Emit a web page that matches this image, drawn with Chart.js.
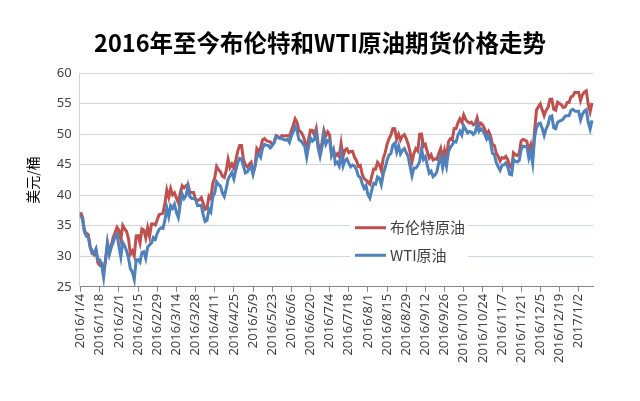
<!DOCTYPE html>
<html>
<head>
<meta charset="utf-8">
<title>2016年至今布伦特和WTI原油期货价格走势</title>
<script src="https://cdn.jsdelivr.net/npm/chart.js@4.4.1/dist/chart.umd.min.js"></script>
<style>
  html, body { margin: 0; padding: 0; background: #fff; }
  #wrap { width: 640px; height: 401px; }
</style>
</head>
<body>
<div id="wrap"><canvas id="oilChart" width="640" height="401"></canvas></div>
<script>
const chartTitle = "2016年至今布伦特和WTI原油期货价格走势";
const yAxisTitle = "美元/桶";
const seriesNames = ["布伦特原油", "WTI原油"];
const startDate = "2016-01-04";

// ticks shown under the x axis (every 10 trading days)
const tickLabels = [
  "2016/1/4", "2016/1/18", "2016/2/1", "2016/2/15", "2016/2/29", "2016/3/14",
  "2016/3/28", "2016/4/11", "2016/4/25", "2016/5/9", "2016/5/23", "2016/6/6",
  "2016/6/20", "2016/7/4", "2016/7/18", "2016/8/1", "2016/8/15", "2016/8/29",
  "2016/9/12", "2016/9/26", "2016/10/10", "2016/10/24", "2016/11/7",
  "2016/11/21", "2016/12/5", "2016/12/19", "2017/1/2",
];

// 布伦特 daily close, USD/bbl
const brent = [
  37.22, 36.42, 34.23, 33.75, 33.55, 31.55, 30.86, 30.31, 31.03, 28.94,
  28.55, 28.76, 27.88, 29.25, 32.18, 30.50, 31.80, 33.10, 33.89, 34.74,
  34.24, 32.72, 35.04, 34.46, 34.06, 32.88, 30.32, 30.84, 30.06, 33.36,
  33.39, 32.18, 34.50, 34.28, 33.01, 34.69, 33.27, 35.29, 35.29, 35.10,
  35.97, 36.81, 36.93, 37.07, 38.72, 40.84, 39.65, 41.07, 40.05, 40.39,
  39.53, 38.74, 40.33, 41.54, 41.20, 41.54, 41.79, 40.47, 40.44, 40.44,
  39.27, 39.14, 39.26, 39.60, 38.67, 37.69, 37.87, 39.84, 39.43, 41.94,
  42.83, 44.69, 44.18, 43.84, 43.10, 42.91, 44.03, 45.90, 44.53, 45.11,
  44.48, 45.74, 47.18, 48.14, 48.13, 45.83, 44.97, 44.62, 45.01, 45.37,
  43.63, 44.66, 47.59, 47.08, 47.83, 49.06, 49.28, 48.93, 48.81, 48.72,
  48.35, 48.61, 49.74, 49.59, 49.32, 49.76, 49.69, 49.72, 49.72, 49.64,
  50.55, 51.44, 52.51, 51.95, 50.54, 50.35, 49.83, 48.97, 47.19, 49.17,
  50.65, 50.62, 49.88, 50.91, 48.41, 47.16, 48.58, 50.61, 49.68, 50.35,
  49.85, 46.60, 47.43, 46.40, 46.76, 46.25, 48.47, 46.26, 47.37, 47.61,
  46.96, 47.14, 47.17, 46.20, 45.69, 44.72, 44.87, 43.47, 42.70, 42.46,
  42.14, 41.80, 43.10, 44.29, 44.27, 45.39, 44.98, 44.05, 46.04, 46.97,
  48.35, 49.23, 49.85, 50.89, 50.88, 49.16, 49.96, 49.05, 49.67, 49.92,
  49.26, 48.37, 47.04, 45.45, 46.83, 47.63, 47.26, 49.98, 49.99, 48.01,
  48.32, 47.10, 46.10, 46.59, 45.77, 45.95, 45.88, 46.83, 47.65, 45.89,
  47.35, 45.97, 48.69, 49.24, 49.06, 50.89, 50.87, 51.86, 52.51, 51.93,
  53.14, 52.41, 52.03, 51.81, 51.95, 51.52, 51.68, 52.67, 51.38, 51.78,
  51.46, 50.79, 49.98, 50.47, 49.71, 48.30, 48.14, 46.86, 46.35, 45.58,
  46.15, 46.04, 46.36, 45.84, 44.75, 44.43, 46.95, 46.63, 46.49, 46.86,
  48.90, 49.12, 49.00, 48.80, 47.24, 48.24, 46.38, 50.47, 53.94, 54.46,
  54.94, 53.93, 53.00, 53.89, 54.33, 55.69, 55.72, 54.08, 53.90, 55.21,
  55.00, 54.79, 54.35, 54.46, 55.16, 55.16, 56.09, 56.22, 56.85, 56.82,
  56.82, 55.47, 56.46, 56.89, 57.10, 54.94, 53.64, 55.10,
];

// WTI daily close, USD/bbl
const wti = [
  36.76, 35.97, 33.97, 33.27, 33.16, 31.41, 30.44, 30.48, 31.20, 29.42,
  29.42, 28.46, 26.55, 29.53, 32.19, 30.34, 31.45, 32.30, 33.22, 33.62,
  31.62, 29.88, 32.28, 31.72, 30.89, 29.69, 27.94, 27.45, 26.21, 29.44,
  29.44, 29.04, 30.66, 30.77, 29.64, 31.48, 31.87, 32.15, 33.07, 32.78,
  33.75, 34.40, 34.66, 34.57, 35.92, 37.90, 36.50, 38.29, 37.84, 38.50,
  37.18, 36.34, 38.46, 40.20, 39.44, 39.91, 41.45, 39.79, 39.46, 39.46,
  39.39, 38.28, 38.32, 38.34, 36.79, 35.70, 35.89, 37.75, 37.26, 39.72,
  40.36, 42.17, 41.76, 41.50, 40.36, 39.78, 41.08, 42.63, 43.18, 43.73,
  42.64, 44.04, 45.33, 46.03, 45.92, 44.78, 43.65, 43.78, 44.32, 44.66,
  43.44, 44.66, 46.23, 46.70, 46.21, 47.72, 48.31, 48.19, 48.16, 47.75,
  48.08, 48.62, 49.56, 49.48, 49.33, 49.33, 49.10, 49.01, 49.17, 48.62,
  49.69, 50.36, 51.23, 50.56, 49.07, 48.88, 48.49, 48.01, 46.21, 47.98,
  49.37, 48.85, 49.13, 50.11, 47.64, 46.33, 47.85, 49.88, 48.33, 48.99,
  48.99, 46.60, 47.43, 45.14, 45.41, 44.76, 46.80, 44.75, 45.68, 45.95,
  45.24, 44.65, 44.94, 44.75, 44.19, 43.13, 42.92, 41.92, 41.14, 41.60,
  40.06, 39.51, 40.83, 41.93, 41.80, 43.02, 42.77, 41.71, 43.49, 44.49,
  45.74, 46.58, 46.79, 48.22, 48.52, 47.05, 48.10, 46.77, 47.33, 47.64,
  46.98, 46.35, 44.70, 43.16, 44.44, 44.44, 44.83, 45.50, 47.62, 45.88,
  46.29, 44.90, 43.58, 43.91, 43.03, 43.30, 43.85, 45.34, 46.32, 44.48,
  45.93, 44.67, 47.05, 47.83, 48.24, 48.81, 48.69, 49.83, 50.44, 49.81,
  51.35, 50.79, 50.18, 50.44, 50.35, 49.94, 50.29, 51.60, 50.43, 50.85,
  50.52, 49.96, 49.18, 49.72, 48.70, 46.86, 46.67, 45.34, 44.66, 44.07,
  44.89, 44.98, 45.27, 44.66, 43.41, 43.32, 45.81, 45.57, 45.42, 45.69,
  47.49, 48.03, 47.96, 47.96, 46.06, 47.08, 45.23, 49.44, 51.06, 51.68,
  51.79, 50.93, 49.77, 50.84, 51.50, 52.83, 52.98, 51.04, 50.90, 51.90,
  52.12, 52.23, 52.49, 52.95, 53.02, 53.02, 53.90, 54.06, 53.77, 53.72,
  53.72, 52.33, 53.26, 53.76, 53.99, 51.96, 50.82, 52.25,
];

const brentColor = "#c0504d";
const wtiColor = "#4f81bd";
const textColor = "#404040";
const gridColor = "#cdd5e1";

// trading-day categories (weekdays) starting at startDate
function buildDates(count) {
  const out = [];
  const d = new Date(startDate + "T00:00:00");
  while (out.length < count) {
    const wd = d.getDay();
    if (wd !== 0 && wd !== 6) {
      out.push(d.getFullYear() + "/" + (d.getMonth() + 1) + "/" + d.getDate());
    }
    d.setDate(d.getDate() + 1);
  }
  return out;
}
const dates = buildDates(brent.length);

// title centred on the whole canvas (Chart.js title centres inside the padding)
const pageTitle = {
  id: "pageTitle",
  afterDraw(chart) {
    const c = chart.ctx;
    c.save();
    c.fillStyle = "#000";
    c.font = 'bold 23.5px "Noto Sans CJK SC", sans-serif';
    c.textAlign = "center";
    c.textBaseline = "middle";
    c.fillText(chartTitle, chart.width / 2, 43);
    c.restore();
  },
};

// legend drawn inside the plot, like the original
const innerLegend = {
  id: "innerLegend",
  afterDatasetsDraw(chart) {
    const c = chart.ctx;
    const y = chart.scales.y;
    const rows = [
      { name: seriesNames[0], color: brentColor, y: y.getPixelForValue(35) + 2 },
      { name: seriesNames[1], color: wtiColor, y: y.getPixelForValue(30) - 1 },
    ];
    c.save();
    c.fillStyle = "#fff";
    c.fillRect(350, rows[0].y - 13, 118, rows[1].y - rows[0].y + 26);
    c.font = '15px "Noto Sans CJK SC", sans-serif';
    c.textBaseline = "middle";
    rows.forEach(function (r) {
      c.strokeStyle = r.color;
      c.lineWidth = 3;
      c.beginPath();
      c.moveTo(355, r.y);
      c.lineTo(386, r.y);
      c.stroke();
      c.fillStyle = textColor;
      c.fillText(r.name, 390, r.y);
    });
    c.restore();
  },
};

document.addEventListener("DOMContentLoaded", function () {
  const ctx = document.getElementById("oilChart");
  new Chart(ctx.getContext("2d"), {
    type: "line",
    data: {
      labels: dates,
      datasets: [
        {
          label: seriesNames[0],
          data: brent,
          borderColor: brentColor,
          backgroundColor: brentColor,
          borderWidth: 3,
          pointRadius: 0,
          tension: 0,
          order: 1,
        },
        {
          label: seriesNames[1],
          data: wti,
          borderColor: wtiColor,
          backgroundColor: wtiColor,
          borderWidth: 3,
          pointRadius: 0,
          tension: 0,
          order: 0,
        },
      ],
    },
    options: {
      responsive: false,
      animation: false,
      layout: { padding: { top: 73, left: 18, right: 47, bottom: 36 } },
      plugins: {
        legend: { display: false },
        tooltip: { enabled: false },
        title: { display: false },
      },
      scales: {
        x: {
          offset: true,
          grid: {
            drawOnChartArea: false,
            drawTicks: true,
            tickLength: 5,
            color: function (c) {
              return tickLabels.indexOf(dates[c.index]) >= 0 ? "#868686" : "rgba(0,0,0,0)";
            },
          },
          border: { color: "#868686" },
          ticks: {
            autoSkip: false,
            minRotation: 90,
            maxRotation: 90,
            padding: 2,
            color: textColor,
            font: { family: '"Noto Sans", sans-serif', size: 13 },
            callback: function (v, i) {
              return tickLabels.indexOf(dates[i]) >= 0 ? dates[i] : "";
            },
          },
        },
        y: {
          min: 25,
          max: 60,
          grid: { color: gridColor, drawTicks: false },
          border: { color: gridColor },
          ticks: {
            stepSize: 5,
            padding: 8,
            color: textColor,
            font: { family: '"Noto Sans", sans-serif', size: 13 },
          },
          title: {
            display: true,
            text: yAxisTitle,
            color: "#000",
            font: { family: '"Noto Sans CJK SC", sans-serif', size: 14 },
            padding: { top: 6, bottom: 8 },
          },
        },
      },
    },
    plugins: [innerLegend, pageTitle],
  });
});
</script>
</body>
</html>
